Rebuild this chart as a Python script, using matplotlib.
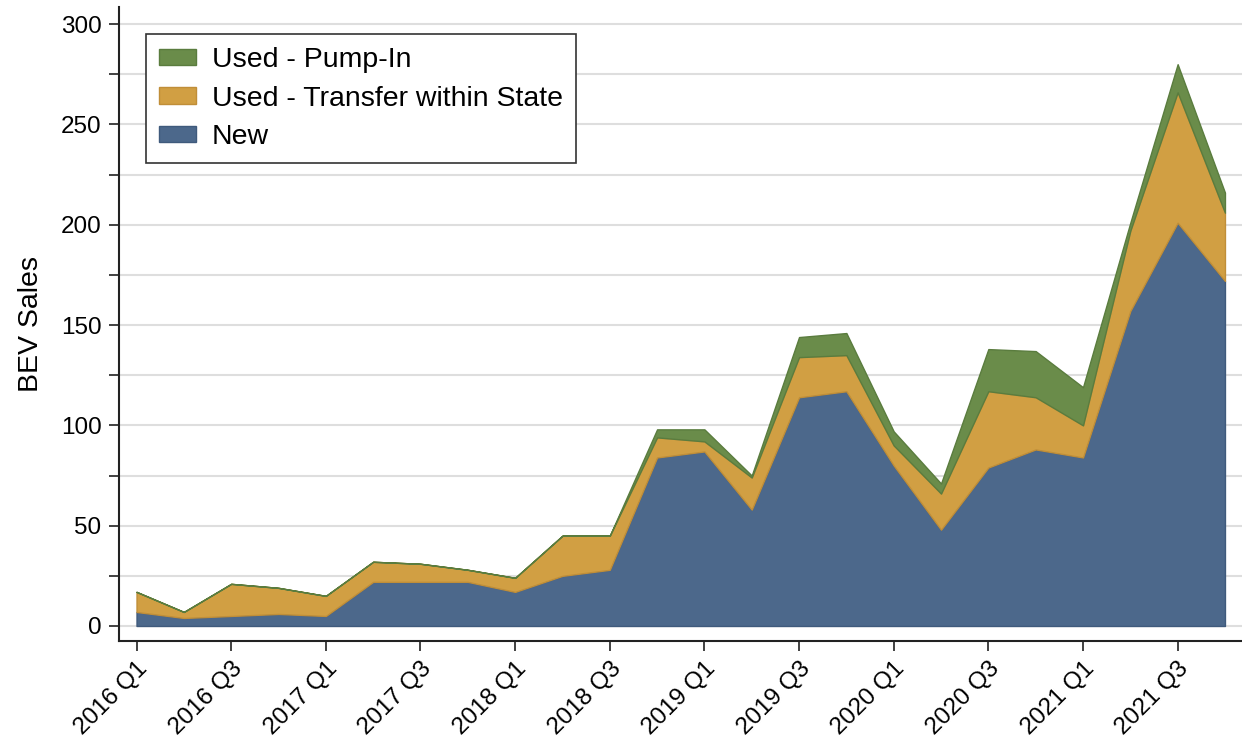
import numpy as np
import matplotlib.pyplot as plt
from matplotlib.ticker import MultipleLocator, FuncFormatter

plt.rcParams["font.family"] = ["Liberation Sans", "DejaVu Sans"]

quarters = [f"{y} Q{q}" for y in range(2016, 2022) for q in range(1, 5)]

new = [7, 4, 5, 6, 5, 22, 22, 22, 17, 25, 28, 84,
       87, 58, 114, 117, 80, 48, 79, 88, 84, 157, 201, 172]
transfer = [10, 3, 16, 13, 10, 10, 9, 6, 7, 20, 17, 10,
            5, 16, 20, 18, 10, 18, 38, 26, 16, 40, 65, 34]
pump_in = [0, 0, 0, 0, 0, 0, 0, 0, 0, 0, 0, 4,
           6, 1, 10, 11, 7, 5, 21, 23, 19, 4, 14, 10]

labels = ["New", "Used - Transfer within State", "Used - Pump-In"]
colors = ["#4c688b", "#d19f43", "#6a8c4a"]
edges = ["#3f5a7c", "#c08e38", "#5a7c3e"]

x = np.arange(len(quarters))

fig = plt.figure(figsize=(12.42, 7.38), dpi=100)
ax = fig.add_axes([0.0962, 0.1314, 0.9038, 0.8591])

ax.yaxis.grid(True, color="#dedede", linewidth=1.5)
ax.set_axisbelow(True)

polys = ax.stackplot(x, new, transfer, pump_in, colors=colors, labels=labels)
for p, ec in zip(polys, edges):
    p.set_edgecolor(ec)
    p.set_linewidth(1.0)

ax.set_xlim(-0.36, len(quarters) - 1 + 0.36)
ax.set_ylim(-7.5, 308.5)

ax.set_xticks(x[::2])
ax.set_xticklabels(quarters[::2], rotation=45, ha="right", rotation_mode="anchor")
ax.yaxis.set_major_locator(MultipleLocator(25))
ax.yaxis.set_major_formatter(FuncFormatter(lambda v, p: f"{int(v)}" if v % 50 == 0 else ""))
ax.tick_params(axis="both", labelsize=17.5, length=7, width=1.3, color="#333333")
ax.tick_params(axis="x", pad=5)
ax.tick_params(axis="y", pad=6)

ax.set_ylabel("BEV Sales", fontsize=20.5, labelpad=12)

for s in ["top", "right"]:
    ax.spines[s].set_visible(False)
for s in ["left", "bottom"]:
    ax.spines[s].set_linewidth(1.5)
    ax.spines[s].set_color("#222222")

handles, leg_labels = ax.get_legend_handles_labels()
leg = ax.legend(handles[::-1], leg_labels[::-1], loc="upper left",
                bbox_to_anchor=(0.0236, 0.957), fontsize=20.5, frameon=True,
                fancybox=False, edgecolor="#333333", framealpha=1,
                handlelength=1.3, handleheight=0.52, handletextpad=0.56,
                borderpad=0.45, labelspacing=0.44, borderaxespad=0)
leg.get_frame().set_linewidth(1.2)

fig.savefig("out.png", dpi=100)
